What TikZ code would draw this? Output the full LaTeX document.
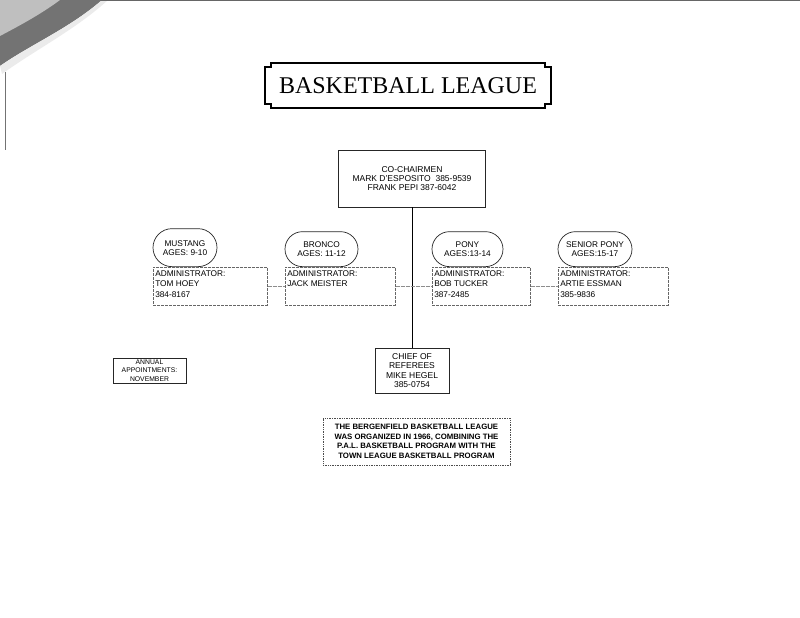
\documentclass[tikz,border=0pt]{standalone}
\usepackage{fontspec}
\setmainfont{Liberation Sans}
\newfontfamily\plaquefont{Liberation Serif}
\usetikzlibrary{positioning,shapes.misc}
\newcommand{\orgfont}{\fontsize{8.5}{8.6}\selectfont}
\tikzset{
  org box/.style={
    draw=black!85,
    line width=0.7pt,
    align=center,
    font=\orgfont,
    inner sep=0pt
  },
  div oval/.style={
    rounded rectangle,
    draw=black!85,
    line width=0.7pt,
    align=center,
    font=\fontsize{8.3}{9}\selectfont,
    inner sep=0pt
  },
  admin box/.style={
    draw=black!60,
    line width=0.5pt,
    dash pattern=on 3pt off 1pt,
    font=\fontsize{8.3}{10.5}\selectfont,
    inner xsep=1pt,
    inner ysep=3pt
  },
  link line/.style={draw=black!45,line width=0.5pt,dash pattern=on 4pt off 1pt},
  stem line/.style={draw=black,line width=0.8pt}
}
% one age division: oval on top, administrator box below
% #1 name, #2 left x, #3 oval width, #4 oval height, #5 box width, #6 oval text, #7 box text
\newcommand{\division}[7]{%
  \node[div oval,minimum width=#3,minimum height=#4,anchor=south]
    (#1 oval) at ({#2+#3/2},267) {#6};
  \node[admin box,minimum width=#5,anchor=north west]
    (#1 admin) at (#2,267) {\parbox[t][32pt][t]{\dimexpr#5pt-4pt\relax}{#7}};
}

\begin{document}
\begin{tikzpicture}[x=1pt,y=-1pt]
  \useasboundingbox (0,0) rectangle (800,618);

  % scanned page curl, top left
  \fill[black!55] (0,0) -- (102,0) .. controls (70,28) and (30,45) .. (0,66) -- cycle;
  \fill[black!25] (0,0) -- (60,0) .. controls (40,15) and (15,28) .. (0,36) -- cycle;
  \fill[black!8] (102,0) .. controls (70,28) and (30,45) .. (0,66)
    -- (2,74) .. controls (35,50) and (75,30) .. (108,0) -- cycle;
  \draw[black!60,line width=0.8pt] (100,0.5) -- (800,0.5);
  \draw[black!55,line width=0.8pt] (5,72) -- (5,150);

  % title plaque
  \node[font=\plaquefont\fontsize{24}{24}\selectfont,inner sep=0pt] (title) at (408,86) {BASKETBALL LEAGUE};
  \draw[line width=1.3pt]
    (271,63) -- (545,63) -- (545,67) -- (551,67) -- (551,104) -- (545,104) -- (545,108)
    -- (271,108) -- (271,104) -- (265,104) -- (265,67) -- (271,67) -- cycle;

  % chairmen and referees
  \node[org box,minimum width=147,minimum height=57] (chair) at (412,178.5)
    {CO-CHAIRMEN\\MARK D'ESPOSITO\ \ 385-9539\\FRANK PEPI 387-6042};
  \node[org box,minimum width=74,minimum height=45,font=\fontsize{8.5}{9.3}\selectfont]
    (chief) at (412,370.5) {CHIEF OF\\REFEREES\\MIKE HEGEL\\385-0754};
  \draw[stem line] (chair.south) -- (chief.north);

  % age divisions
  \division{mustang}{153}{64}{38}{114}{MUSTANG\\AGES: 9-10}{ADMINISTRATOR:\\TOM HOEY\\384-8167}
  \division{bronco}{285}{73}{35}{110}{BRONCO\\AGES: 11-12}{ADMINISTRATOR:\\JACK MEISTER}
  \division{pony}{432}{71}{35}{98}{PONY\\AGES:13-14}{ADMINISTRATOR:\\BOB TUCKER\\387-2485}
  \division{senior}{558}{74}{35}{110}{SENIOR PONY\\AGES:15-17}{ADMINISTRATOR:\\ARTIE ESSMAN\\385-9836}
  \draw[link line] (mustang admin.east) -- (bronco admin.west);
  \draw[link line] (bronco admin.east) -- (pony admin.west);
  \draw[link line] (pony admin.east) -- (senior admin.west);

  % notes
  \node[org box,minimum width=73,minimum height=25,font=\fontsize{6.8}{8.3}\selectfont]
    (annual) at (149.5,370.5) {ANNUAL\\APPOINTMENTS:\\NOVEMBER};
  \node[org box,draw=black!70,densely dotted,minimum width=187,minimum height=47,
    font=\bfseries\fontsize{7.8}{9.5}\selectfont] (history) at (416.5,441.5)
    {THE BERGENFIELD BASKETBALL LEAGUE\\WAS ORGANIZED IN 1966, COMBINING THE\\
     P.A.L. BASKETBALL PROGRAM WITH THE\\TOWN LEAGUE BASKETBALL PROGRAM};
\end{tikzpicture}
\end{document}
